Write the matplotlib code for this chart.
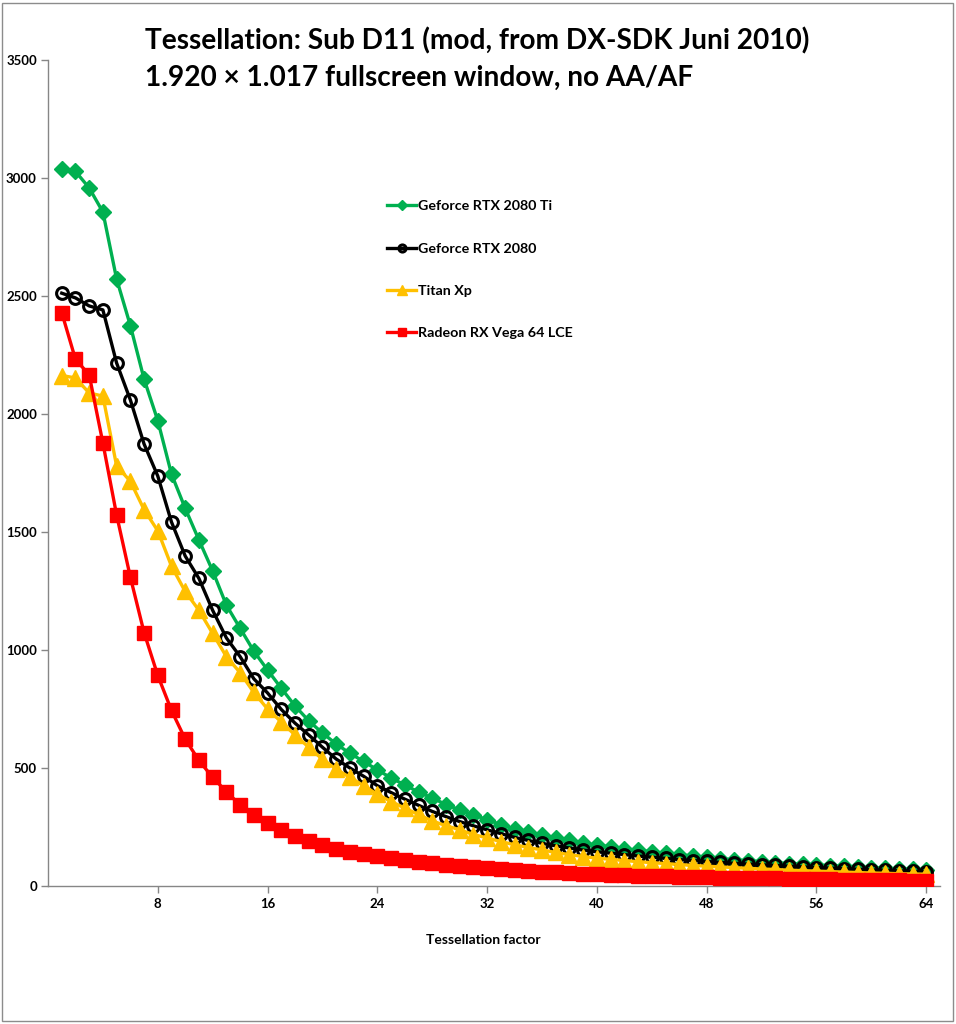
import matplotlib
matplotlib.use("Agg")
import matplotlib.pyplot as plt
from matplotlib.patches import Rectangle

factors = list(range(1, 65))

rtx2080ti = [3038, 3028, 2958, 2856, 2572, 2375, 2148, 1972, 1745, 1600,
             1466, 1335, 1190, 1092, 995, 915, 838, 763, 700, 648,
             602, 562, 528, 492, 458, 428, 398, 373, 345, 322,
             301, 281, 260, 242, 228, 216, 204, 193, 182, 172,
             166, 158, 151, 145, 139, 133, 127, 121, 116, 111,
             107, 103, 99, 95, 92, 89, 86, 83, 80, 77,
             75, 72, 70, 68]

rtx2080 = [2512, 2492, 2458, 2441, 2216, 2060, 1873, 1737, 1542, 1398,
           1303, 1168, 1051, 972, 878, 818, 748, 690, 640, 588,
           538, 500, 465, 425, 396, 368, 342, 316, 294, 273,
           255, 238, 222, 206, 193, 181, 170, 161, 152, 145,
           139, 133, 127, 122, 117, 112, 108, 104, 100, 96,
           93, 90, 87, 84, 81, 78, 76, 73, 71, 68,
           66, 64, 62, 60]

titan_xp = [2163, 2153, 2089, 2076, 1780, 1715, 1595, 1505, 1355, 1248,
            1168, 1070, 972, 904, 820, 750, 695, 640, 588, 537,
            495, 460, 425, 388, 358, 330, 303, 275, 256, 238,
            218, 204, 188, 175, 163, 153, 142, 133, 125, 118,
            113, 108, 103, 99, 95, 91, 87, 84, 81, 78,
            75, 72, 70, 67, 65, 63, 61, 59, 57, 55,
            54, 52, 51, 50]

vega64 = [2430, 2232, 2166, 1877, 1572, 1309, 1074, 892, 744, 622,
          532, 460, 400, 343, 300, 265, 236, 210, 190, 172,
          157, 145, 135, 127, 118, 110, 103, 97, 91, 86,
          81, 76, 72, 68, 64, 61, 58, 55, 52, 50,
          48, 46, 44, 43, 41, 40, 38, 37, 36, 35,
          34, 33, 32, 31, 30, 29, 28, 27, 26, 25,
          25, 24, 23, 22]

labels = ["Geforce RTX 2080 Ti", "Geforce RTX 2080", "Titan Xp", "Radeon RX Vega 64 LCE"]
x_ticks = [8, 16, 24, 32, 40, 48, 56, 64]
y_ticks = [0, 500, 1000, 1500, 2000, 2500, 3000, 3500]

plt.rcParams['font.family'] = ['Lato', 'DejaVu Sans']
W, H = 956, 1024
fig = plt.figure(figsize=(W / 100, H / 100), dpi=100)
fig.patch.set_facecolor('white')
fig.patches.append(Rectangle((2 / W, 3 / H), (W - 5) / W, (H - 6) / H,
                             transform=fig.transFigure, fill=False,
                             edgecolor='#8c8c8c', linewidth=1.0))

ax = fig.add_axes([48 / W, (H - 886) / H, (940 - 48) / W, (886 - 60) / H])

lw = 2.4
ax.plot(factors, rtx2080ti, color='#00B050', lw=lw, marker='D', ms=8.5,
        mec='#00B050', mfc='#00B050', label=labels[0], zorder=3)
ax.plot(factors, rtx2080, color='black', lw=lw, marker='o', ms=8.5,
        mec='black', mfc='none', mew=2.2, label=labels[1], zorder=4)
ax.plot(factors, titan_xp, color='#FFC000', lw=lw, marker='^', ms=11,
        mec='#FFC000', mfc='#FFC000', label=labels[2], zorder=5)
ax.plot(factors, vega64, color='#FF0000', lw=lw, marker='s', ms=9.5,
        mec='#FF0000', mfc='#FF0000', label=labels[3], zorder=6)

ax.set_xlim(0, 65)
ax.set_ylim(0, 3500)
ax.set_xticks(x_ticks)
ax.set_yticks(y_ticks)
ax.tick_params(axis='both', direction='out', length=5, width=1, color='#868686',
               labelsize=9.5)
ax.tick_params(axis='y', pad=3)
for lab in ax.get_xticklabels() + ax.get_yticklabels():
    lab.set_fontweight('bold')
for side in ['top', 'right']:
    ax.spines[side].set_visible(False)
for side in ['left', 'bottom']:
    ax.spines[side].set_color('#868686')
    ax.spines[side].set_linewidth(1)

fig.text(483 / W, 1 - 940 / H, "Tessellation factor", ha='center', va='center',
         fontsize=10, fontweight='bold')

fig.text(145 / W, 1 - 49 / H, "Tessellation: Sub D11 (mod, from DX-SDK Juni 2010)",
         ha='left', va='baseline', fontsize=20.2, fontweight='bold')
fig.text(145 / W, 1 - 86 / H, "1.920 \u00d7 1.017 fullscreen window, no AA/AF",
         ha='left', va='baseline', fontsize=20.2, fontweight='bold')

leg = ax.legend(loc='upper left', bbox_to_anchor=(376 / W, 1 - 189 / H),
                bbox_transform=fig.transFigure, frameon=False,
                prop={'weight': 'bold', 'size': 10.3}, labelspacing=2.1,
                handlelength=2.0, handletextpad=0.15, markerscale=0.6,
                borderpad=0.3)

fig.savefig("out.png", dpi=100)
